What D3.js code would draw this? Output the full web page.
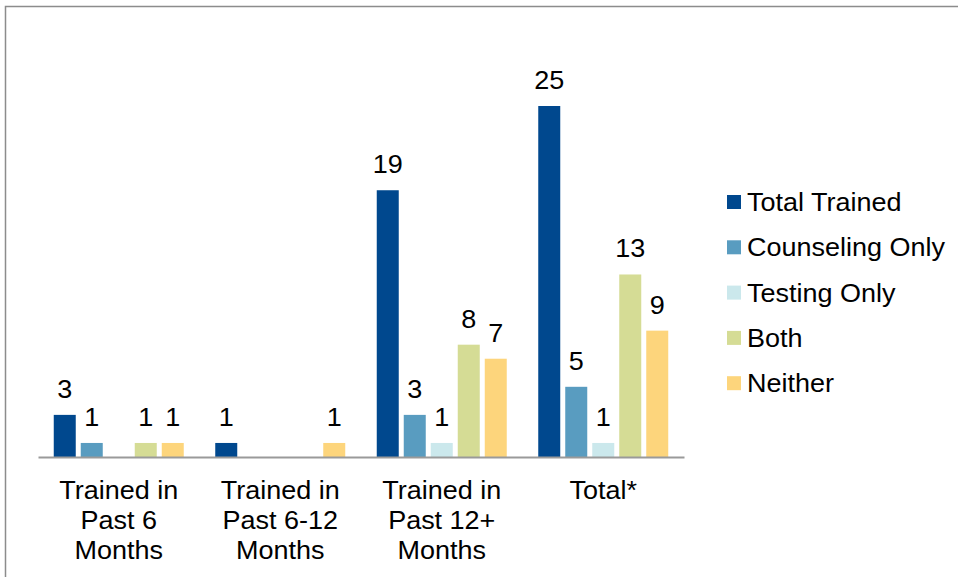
<!DOCTYPE html>
<html>
<head>
<meta charset="utf-8">
<script src="https://cdn.jsdelivr.net/npm/d3@7"></script>
<style>
  html, body { margin: 0; padding: 0; background: #fff; }
  svg { display: block; font-family: "Liberation Sans", Arial, sans-serif; }
</style>
</head>
<body>
<script>
// Training status by time since training
const categories = [
  ["Trained in", "Past 6", "Months"],
  ["Trained in", "Past 6-12", "Months"],
  ["Trained in", "Past 12+", "Months"],
  ["Total*"]
];
const seriesNames = ["Total Trained", "Counseling Only", "Testing Only", "Both", "Neither"];
const seriesColors = ["#00488e", "#599cc0", "#cbe8ec", "#d5dc95", "#fdd57c"];
const totalTrained   = [3, 1, 19, 25];
const counselingOnly = [1, 0, 3, 5];
const testingOnly    = [0, 0, 1, 1];
const both           = [1, 0, 8, 13];
const neither        = [1, 1, 7, 9];
const seriesValues = [totalTrained, counselingOnly, testingOnly, both, neither];

const W = 958, H = 577;
const textStretch = 1.08; // glyphs are drawn slightly wide
const svg = d3.select("body").append("svg").attr("width", W).attr("height", H);

// outer frame
svg.append("rect")
  .attr("x", 5.5).attr("y", 6.5).attr("width", W + 10).attr("height", H + 10)
  .attr("fill", "none").attr("stroke", "#8c8c8c").attr("stroke-width", 1.5);

const plotLeft = 38, plotRight = 684, baseY = 457;
const x0 = d3.scaleBand().domain(d3.range(categories.length)).range([plotLeft, plotRight]).padding(0);
const x1 = d3.scaleBand().domain(d3.range(seriesNames.length)).range([-65, 65]).paddingInner(5 / 27).paddingOuter(0);
const y = d3.scaleLinear().domain([0, 30]).range([baseY, baseY - 30 * 14.04]);

const groups = svg.append("g").selectAll("g")
  .data(categories.map((c, i) => i))
  .join("g")
  .attr("transform", i => `translate(${x0(i) + x0.bandwidth() / 2},0)`);

const cells = groups.selectAll("g.cell")
  .data(i => seriesValues.map((vals, s) => ({ s, v: vals[i] })))
  .join("g").attr("class", "cell");

cells.filter(d => d.v > 0).append("rect")
  .attr("x", d => x1(d.s))
  .attr("width", x1.bandwidth())
  .attr("y", d => y(d.v))
  .attr("height", d => y(0) - y(d.v))
  .attr("fill", d => seriesColors[d.s]);

cells.filter(d => d.v > 0).append("text")
  .attr("transform", d => `translate(${x1(d.s) + x1.bandwidth() / 2},${y(d.v) - 17}) scale(${textStretch},1)`)
  .attr("text-anchor", "middle")
  .attr("font-size", 25)
  .attr("fill", "#000")
  .text(d => d.v);

// baseline axis
const xAxis = d3.axisBottom(x0).tickSize(0).tickFormat("");
const axisG = svg.append("g").attr("transform", `translate(0,${baseY})`).call(xAxis);
axisG.select(".domain").attr("stroke", "#9a9a9a").attr("stroke-width", 2);

// category labels
groups.append("text")
  .attr("transform", `scale(${textStretch},1)`)
  .attr("text-anchor", "middle")
  .attr("font-size", 25)
  .attr("fill", "#000")
  .selectAll("tspan")
  .data(i => categories[i])
  .join("tspan")
  .attr("x", 0)
  .attr("y", (d, k) => 499 + k * 30)
  .text(d => d);

// legend
const legend = svg.append("g").attr("transform", "translate(727,0)");
const items = legend.selectAll("g").data(seriesNames).join("g")
  .attr("transform", (d, i) => `translate(0,${202 + i * 45.3})`);
items.append("rect")
  .attr("x", 0).attr("y", -7).attr("width", 14).attr("height", 14)
  .attr("fill", (d, i) => seriesColors[i]);
items.append("text")
  .attr("transform", `translate(20,9) scale(${textStretch},1)`)
  .attr("font-size", 25)
  .attr("fill", "#000")
  .text(d => d);
</script>
</body>
</html>
